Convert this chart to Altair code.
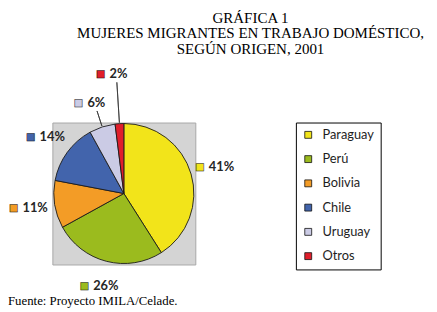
import altair as alt
import pandas as pd

# ---- data ----
categories = ["Paraguay", "Perú", "Bolivia", "Chile", "Uruguay", "Otros"]
values = [41, 26, 11, 14, 6, 2]
colors = ["#F2E41A", "#9BBB1E", "#F39C26", "#4264AC", "#CBCBE5", "#E01E2B"]
title_lines = ["GRÁFICA 1", "MUJERES MIGRANTES EN TRABAJO DOMÉSTICO,", "SEGÚN ORIGEN, 2001"]
source_note = "Fuente: Proyecto IMILA/Celade."

# ---- derived table ----
starts, ends, acc = [], [], 0
for v in values:
    starts.append(acc)
    acc += v
    ends.append(acc)
df = pd.DataFrame({
    "pais": categories,
    "value": values,
    "start": starts,
    "end": ends,
    "mid": [(s + e) / 2 for s, e in zip(starts, ends)],
    "label": [f"{v}%" for v in values],
    "sq": ["■"] * len(values),
})

W, H = 427, 303
CX, CY, R = 117.5, 186, 71
LR = 97          # label radius
LR_SMALL = 121   # label radius for the tiniest slice

theta_scale = alt.Scale(domain=[0, 100])
color_scale = alt.Scale(domain=categories, range=colors)

base = alt.Chart(df)

bg = alt.Chart(pd.DataFrame({"a": [0]})).mark_rect(
    fill="#D4D4D4", stroke="#A8A8A8", strokeWidth=1
).encode(
    x=alt.value(45.5), x2=alt.value(190.5), y=alt.value(114.5), y2=alt.value(258.5)
)

arcs = base.mark_arc(stroke="#1a1a1a", strokeWidth=0.9, outerRadius=R).encode(
    theta=alt.Theta("start:Q", scale=theta_scale, stack=False),
    theta2="end:Q",
    x=alt.value(CX),
    y=alt.value(CY),
    color=alt.Color(
        "pais:N",
        scale=color_scale,
        sort=categories,
        legend=alt.Legend(
            title=None,
            orient="none",
            legendX=292,
            legendY=114,
            direction="vertical",
            symbolType="square",
            symbolSize=49,
            symbolStrokeColor="#111",
            symbolStrokeWidth=0.8,
            symbolOpacity=1,
            labelFont="Lato",
            labelFontSize=13,
            labelColor="#1e1e1e",
            labelOffset=8,
            rowPadding=10.6,
            padding=6,
            strokeColor="#000",
            fillColor="#FFFFFF",
            labelLimit=200,
        ),
    ),
    order=alt.Order("start:Q"),
)

leaders_mid = base.transform_filter("datum.value < 10 && datum.value >= 3").mark_arc(
    stroke="#333", strokeWidth=0.8, fillOpacity=0
).encode(
    theta=alt.Theta("mid:Q", scale=theta_scale, stack=False),
    theta2="mid:Q",
    x=alt.value(CX), y=alt.value(CY),
    radius=alt.value(R + 1), radius2=alt.value(LR - 9),
)
leaders_small = base.transform_filter("datum.value < 3").mark_arc(
    stroke="#333", strokeWidth=0.8, fillOpacity=0
).encode(
    theta=alt.Theta("mid:Q", scale=theta_scale, stack=False),
    theta2="mid:Q",
    x=alt.value(CX), y=alt.value(CY),
    radius=alt.value(R + 1), radius2=alt.value(LR_SMALL - 8),
)


def label_layers(flt, rad):
    b = base.transform_filter(flt)
    sq = b.mark_text(
        font="DejaVu Sans", fontSize=10, dx=-16, stroke="#111", strokeWidth=0.5,
        baseline="middle", align="center"
    ).encode(
        theta=alt.Theta("mid:Q", scale=theta_scale, stack=False),
        radius=alt.value(rad),
        x=alt.value(CX), y=alt.value(CY),
        text="sq:N",
        fill=alt.Fill("pais:N", scale=color_scale, legend=None),
    )
    tx = b.mark_text(
        font="Lato", fontSize=13, fontWeight="bold", color="#262626", dx=-7,
        baseline="middle", align="left"
    ).encode(
        theta=alt.Theta("mid:Q", scale=theta_scale, stack=False),
        radius=alt.value(rad),
        x=alt.value(CX), y=alt.value(CY),
        text="label:N",
    )
    return [sq, tx]


labels = label_layers("datum.value >= 3", LR) + label_layers("datum.value < 3", LR_SMALL)


def line_text(txt, x, y, size, align):
    return alt.Chart(pd.DataFrame({"t": [txt]})).mark_text(
        font="Liberation Serif", fontSize=size, color="#000", align=align, baseline="alphabetic"
    ).encode(x=alt.value(x), y=alt.value(y), text="t:N")


title_ys = [13, 28.5, 44]
titles = [line_text(t, 246, y, 15.2, "center") for t, y in zip(title_lines, title_ys)]
footer = line_text(source_note, 0, 299, 13, "left")

chart = alt.layer(
    bg, arcs, leaders_mid, leaders_small, *labels, *titles, footer
).properties(
    width=W, height=H, autosize=alt.AutoSizeParams(type="none"), padding=0
).resolve_scale(
    color="shared"
).configure_view(stroke=None)

chart.save("out.html", embed_options={"renderer": "svg", "actions": False})
